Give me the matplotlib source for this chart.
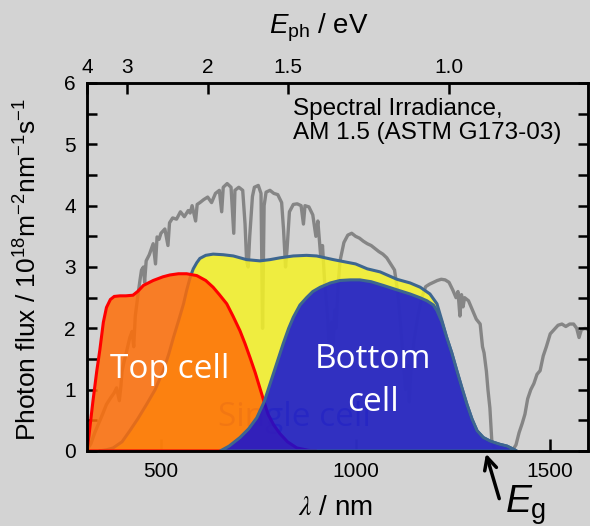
import matplotlib.pyplot as plt
from matplotlib.ticker import MultipleLocator

plt.rcParams['font.family'] = ['Liberation Sans', 'DejaVu Sans']
plt.rcParams['mathtext.fontset'] = 'custom'
plt.rcParams['mathtext.rm'] = 'Liberation Sans'
plt.rcParams['mathtext.it'] = 'Liberation Sans:italic'

# AM1.5 spectrum as photon flux (grey line)
wl_am = [305, 310, 320, 330, 340, 350, 360, 370, 380, 386,
         393, 397, 400, 405, 412, 420, 426, 430, 434, 440,
         446, 450, 455, 458, 462, 470, 480, 486, 490, 495,
         500, 510, 518, 522, 530, 540, 550, 560, 570, 575,
         580, 589, 593, 600, 610, 620, 630, 640, 650, 656,
         660, 670, 680, 687, 690, 700, 710, 716, 720, 724,
         728, 735, 740, 750, 757, 761, 765, 770, 780, 790,
         800, 810, 815, 820, 824, 830, 840, 850, 860, 866,
         870, 880, 890, 898, 903, 910, 915, 920, 928, 934,
         938, 942, 946, 950, 955, 960, 970, 980, 990, 1000,
         1010, 1020, 1030, 1040, 1050, 1060, 1070, 1080, 1090, 1100,
         1108, 1115, 1122, 1128, 1134, 1138, 1142, 1150, 1160, 1170,
         1180, 1190, 1200, 1210, 1220, 1230, 1240, 1250, 1258, 1263,
         1268, 1272, 1276, 1280, 1290, 1300, 1310, 1320, 1326, 1330,
         1336, 1340, 1345, 1350, 1356, 1365, 1380, 1395, 1405, 1412,
         1420, 1428, 1435, 1442, 1450, 1458, 1466, 1474, 1482, 1490,
         1500, 1510, 1520, 1530, 1540, 1550, 1560, 1568, 1574, 1580,
         1590, 1600]
flux_am = [0.0, 0.02, 0.12, 0.30, 0.45, 0.60, 0.76, 0.86, 0.95, 1.03,
           0.82, 1.05, 1.30, 1.45, 1.63, 1.85, 1.95, 1.70, 2.20, 2.50,
           2.78, 2.95, 3.00, 2.75, 3.10, 3.20, 3.38, 3.05, 3.49, 3.45,
           3.55, 3.62, 3.35, 3.72, 3.80, 3.78, 3.90, 3.82, 3.92, 3.88,
           4.00, 3.75, 4.02, 4.05, 4.10, 4.14, 4.05, 4.20, 4.25, 3.90,
           4.30, 4.36, 4.30, 3.55, 4.25, 4.30, 4.25, 3.70, 3.10, 3.00,
           3.50, 4.15, 4.30, 4.33, 4.20, 2.00, 4.00, 4.22, 4.25, 4.20,
           4.18, 4.05, 3.60, 3.00, 3.30, 3.90, 4.02, 4.03, 4.00, 3.70,
           4.00, 3.98, 3.85, 3.50, 3.75, 3.20, 3.35, 2.80, 2.20, 1.40,
           2.10, 1.60, 2.30, 2.00, 2.70, 3.10, 3.40, 3.52, 3.55, 3.50,
           3.47, 3.42, 3.38, 3.35, 3.30, 3.25, 3.21, 3.15, 3.05, 2.95,
           2.60, 2.10, 1.50, 1.00, 1.40, 0.80, 1.30, 1.80, 2.20, 2.50,
           2.68, 2.72, 2.75, 2.78, 2.80, 2.79, 2.75, 2.62, 2.50, 2.60,
           2.20, 2.55, 2.35, 2.50, 2.45, 2.30, 2.15, 2.07, 1.70, 1.60,
           1.30, 1.00, 0.70, 0.15, 0.05, 0.0, 0.0, 0.0, 0.03, 0.10,
           0.30, 0.45, 0.60, 0.85, 1.00, 1.10, 1.25, 1.31, 1.55, 1.70,
           1.91, 1.98, 2.05, 2.07, 2.03, 2.07, 2.07, 2.00, 1.85, 1.98,
           2.00, 1.97]

# single cell (yellow)
wl_single = [340, 360, 377, 400, 420, 440, 463, 485, 506, 520,
             532, 545, 558, 566, 575, 583, 592, 600, 615, 634,
             660, 686, 720, 754, 780, 806, 840, 874, 900, 943,
             1000, 1030, 1063, 1106, 1140, 1166, 1191, 1209, 1222, 1234,
             1247, 1260, 1273, 1286, 1299, 1312, 1328, 1346, 1370, 1389,
             1405, 1414]
flux_single = [0.0, 0.02, 0.05, 0.15, 0.33, 0.52, 0.76, 1.00, 1.31, 1.58,
               1.85, 2.12, 2.40, 2.62, 2.83, 2.97, 3.07, 3.14, 3.19, 3.21,
               3.20, 3.18, 3.12, 3.10, 3.12, 3.15, 3.18, 3.19, 3.18, 3.12,
               3.05, 2.97, 2.92, 2.80, 2.74, 2.67, 2.56, 2.40, 2.12, 1.85,
               1.60, 1.31, 1.03, 0.76, 0.52, 0.33, 0.22, 0.16, 0.11, 0.08,
               0.03, 0.0]

# top cell (orange)
wl_top = [310, 315, 325, 335, 343, 352, 360, 370, 380, 395,
          410, 428, 440, 455, 480, 505, 523, 545, 566, 592,
          615, 634, 650, 669, 685, 703, 716, 729, 742, 754,
          765, 775, 790, 806, 825, 849, 880, 900]
flux_top = [0.0, 0.25, 0.80, 1.30, 1.65, 2.10, 2.34, 2.47, 2.52, 2.53,
            2.53, 2.54, 2.60, 2.70, 2.78, 2.84, 2.87, 2.89, 2.89, 2.86,
            2.78, 2.67, 2.55, 2.40, 2.20, 1.96, 1.75, 1.52, 1.28, 1.03,
            0.80, 0.60, 0.42, 0.28, 0.15, 0.05, 0.01, 0.0]

# bottom cell (blue)
wl_bot = [652, 675, 703, 725, 746, 765, 780, 797, 814, 828,
          840, 857, 874, 890, 909, 935, 960, 986, 1011, 1040,
          1071, 1105, 1140, 1165, 1183, 1200, 1209, 1222, 1234, 1247,
          1260, 1273, 1286, 1299, 1312, 1328, 1346, 1370, 1389, 1405,
          1414]
flux_bot = [0.0, 0.08, 0.22, 0.36, 0.54, 0.80, 1.09, 1.42, 1.75, 2.00,
            2.18, 2.38, 2.50, 2.60, 2.67, 2.74, 2.78, 2.79, 2.79, 2.76,
            2.70, 2.63, 2.56, 2.50, 2.45, 2.38, 2.29, 2.10, 1.85, 1.60,
            1.31, 1.03, 0.76, 0.52, 0.33, 0.22, 0.16, 0.11, 0.08, 0.03,
            0.0]

energy_ticks = [4, 3, 2, 1.5, 1.0]
energy_labels = ['4', '3', '2', '1.5', '1.0']

bg = '#d3d3d3'
edge_blue = '#3d6690'

fig = plt.figure(figsize=(5.9, 5.26), dpi=100, facecolor=bg)
ax = fig.add_axes([87/590, 1 - 451/526, 501/590, 368/526], facecolor=bg)

ax.plot(wl_am, flux_am, color='#858585', lw=2.4, zorder=1)

ax.fill(wl_single, flux_single, facecolor=(0.96, 0.95, 0.15, 0.85),
        edgecolor=edge_blue, lw=2.2, zorder=2)
# faint label underneath the cell fills
ax.text(844, 0.41, 'Single cell', family='Open Sans', fontsize=24,
        color='#606060', alpha=0.45, ha='center', va='baseline', zorder=2.5)
ax.fill(wl_top, flux_top, facecolor=(1.0, 0.43, 0.03, 0.85),
        edgecolor='#ff0000', lw=2.2, zorder=3)
ax.fill(wl_bot, flux_bot, facecolor=(0.06, 0.06, 0.85, 0.85),
        edgecolor=edge_blue, lw=2.2, zorder=4)

ax.text(523, 1.19, 'Top cell', family='Open Sans', fontsize=24,
        color='white', ha='center', va='baseline', zorder=6)
ax.text(1045, 1.36, 'Bottom', family='Open Sans', fontsize=24,
        color='white', ha='center', va='baseline', zorder=6)
ax.text(1045, 0.65, 'cell', family='Open Sans', fontsize=24,
        color='white', ha='center', va='baseline', zorder=6)

ax.text(0.411, 0.96, 'Spectral Irradiance,\nAM 1.5 (ASTM G173-03)',
        transform=ax.transAxes, fontsize=17.5, ha='left', va='top',
        linespacing=1.15, zorder=6)

ax.set_xlim(310, 1597)
ax.set_ylim(0, 6)
ax.xaxis.set_major_locator(MultipleLocator(500))
ax.yaxis.set_major_locator(MultipleLocator(1))
ax.yaxis.set_minor_locator(MultipleLocator(0.5))
ax.tick_params(axis='both', which='both', direction='in', width=1.8,
               labelsize=15, right=True, top=False)
ax.tick_params(axis='y', which='major', length=7, pad=8)
ax.tick_params(axis='y', which='minor', length=7)
ax.tick_params(axis='x', which='major', length=9, pad=8)
for s in ax.spines.values():
    s.set_linewidth(1.8)
    s.set_zorder(10)

ax2 = ax.twiny()
ax2.set_xlim(ax.get_xlim())
ax2.set_xticks([1240 / e for e in energy_ticks])
ax2.set_xticklabels(energy_labels)
ax2.tick_params(axis='x', direction='in', length=8, width=1.8, labelsize=15, pad=4)
for s in ax2.spines.values():
    s.set_linewidth(1.8)

# E_g arrow below axis
ax.annotate('', xy=(1333, 0), xytext=(1371, -0.82), annotation_clip=False,
            arrowprops=dict(arrowstyle='->', lw=2.5, color='black',
                            mutation_scale=22))
ax.text(1385, -1.01, r'$E_{\mathrm{g}}$', fontsize=28, ha='left', va='baseline',
        clip_on=False)

fig.text(28/590, 1 - 270/526,
         r'Photon flux / 10$^{18}$m$^{-2}$nm$^{-1}$s$^{-1}$',
         rotation=90, ha='center', va='center', fontsize=19)
fig.text(335/590, 1 - 508/526, r'$\lambda$ / nm', math_fontfamily='stix',
         ha='center', va='center', fontsize=20)
fig.text(319/590, 1 - 33/526, r'$E_{\mathrm{ph}}$ / eV',
         ha='center', va='baseline', fontsize=20)

fig.savefig('out.png', dpi=100, facecolor=bg)
